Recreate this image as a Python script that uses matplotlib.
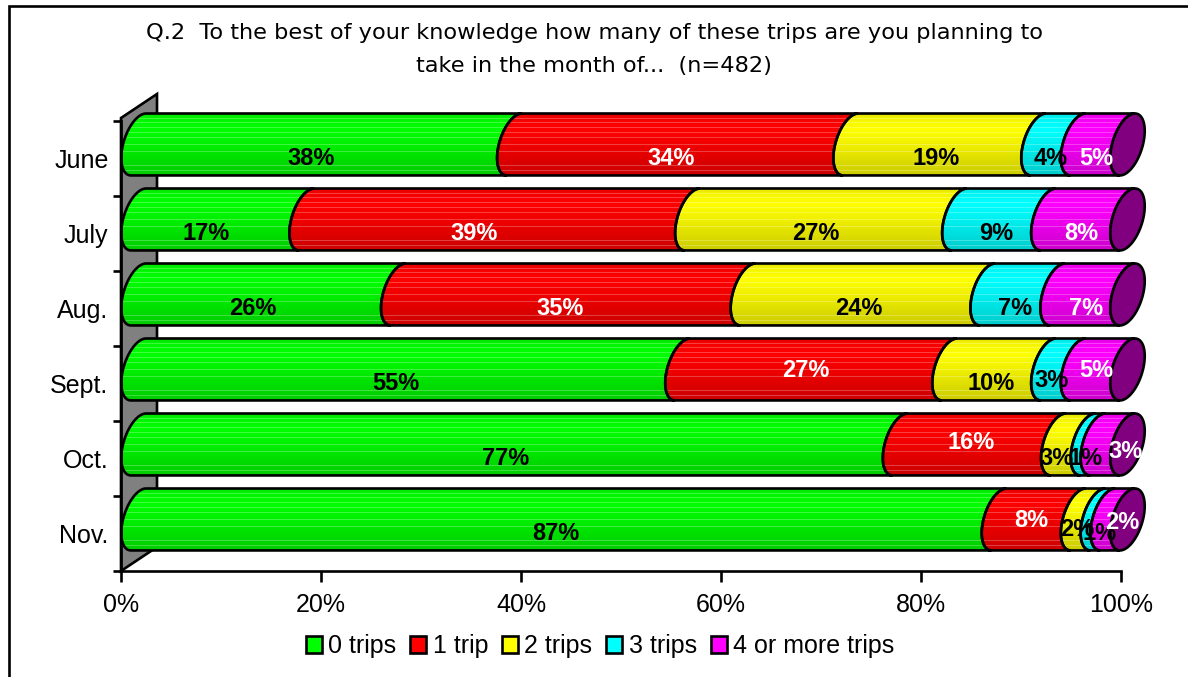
import numpy as np
import matplotlib.pyplot as plt
from matplotlib.patches import Polygon, Patch, Rectangle

# Survey answers per month (percent of respondents)
months = ['June', 'July', 'Aug.', 'Sept.', 'Oct.', 'Nov.']
series = ['0 trips', '1 trip', '2 trips', '3 trips', '4 or more trips']
trips_0 = [38, 17, 26, 55, 77, 87]
trips_1 = [34, 39, 35, 27, 16, 8]
trips_2 = [19, 27, 24, 10, 3, 2]
trips_3 = [4, 9, 7, 3, 1, 1]
trips_4 = [5, 8, 7, 5, 3, 2]

colors = ['#00ff00', '#ff0000', '#ffff00', '#00ffff', '#ff00ff']
label_colors = ['black', 'white', 'black', 'black', 'white']
cap_color = '#800080'

# small hand nudges for crowded labels (row, col): (dx, dy)
nudges = {(1, 1): (-1.2, 0),
          (3, 1): (0, -0.17), (3, 3): (-0.4, -0.04), (3, 4): (0, -0.17),
          (4, 1): (0, -0.21), (4, 2): (-0.9, 0), (4, 4): (2.0, -0.10),
          (5, 1): (0, -0.17), (5, 2): (-0.4, -0.05), (5, 3): (0.4, 0),
          (5, 4): (1.1, -0.15)}

values = np.array([trips_0, trips_1, trips_2, trips_3, trips_4], dtype=float).T
# 100% stacked: every month is scaled to its own total
shares = values / values.sum(axis=1, keepdims=True) * 100
cum = np.hstack([np.zeros((len(months), 1)), np.cumsum(shares, axis=1)])

# cylinder geometry (x in percent units, y in category units)
RX, K, RY = 1.55, 0.75, 0.413
YOFF = -0.187
LW = 1.9


def xc(v):
    # cylinder axis sits a little behind the front plane
    return 1.75 + 0.989 * v


def arc(cx, cy, t0, t1, n=40):
    t = np.radians(np.linspace(t0, t1, n))
    return np.column_stack([cx + RX * np.cos(t) + K * np.sin(t), cy - RY * np.sin(t)])


def shade(rgb, n=62):
    tt = np.linspace(0, 1, n)
    f = np.interp(tt, [0, 0.08, 0.25, 0.55, 1.0], [0.88, 0.96, 1.0, 0.93, 0.80])
    col = np.outer(f, np.array(rgb))
    # faint light streaks
    for r in [5, 9, 14, 19, 24, 31, 38, 52, 57]:
        col[r] = col[r] + (1 - col[r]) * 0.25
    return col[:, None, :]


fig = plt.figure(figsize=(11.88, 6.77), dpi=100)
ax = fig.add_axes([121 / 1188, (677 - 571) / 677, 1000 / 1188, 450 / 677])
ax.set_xlim(0, 100)
ax.set_ylim(5.5, -0.5)

# grey side wall
wall = Polygon([(0, 5.5), (0, -0.54), (3.6, -0.86), (3.6, 5.18)], closed=True,
               fc='#808080', ec='black', lw=LW, zorder=1, clip_on=False)
ax.add_patch(wall)

for i in range(len(months)):
    cy = i + YOFF
    for j in range(len(series)):
        xa, xb = xc(cum[i, j]), xc(cum[i, j + 1])
        pts = np.vstack([arc(xa, cy, 90, 270), arc(xb, cy, 270, 90)])
        poly = Polygon(pts, closed=True, fc='none', ec='black', lw=LW,
                       zorder=3 + j * 0.1, clip_on=False)
        ax.add_patch(poly)
        rgb = plt.matplotlib.colors.to_rgb(colors[j])
        im = ax.imshow(shade(rgb), extent=(xa - 2, xb + 2, cy + RY, cy - RY),
                       origin='upper', aspect='auto', zorder=2 + j * 0.1,
                       interpolation='bilinear')
        im.set_clip_box(fig.bbox)
        im.set_clip_path(poly)
        dx, dy = nudges.get((i, j), (0, 0))
        ax.text((cum[i, j] + cum[i, j + 1]) / 2 + dx, i + dy, f'{values[i, j]:.0f}%',
                ha='center', va='center', fontsize=17, fontweight='bold',
                family='Liberation Sans', color=label_colors[j], zorder=6)
    cap = Polygon(arc(xc(100), cy, 0, 360, 80), closed=True, fc=cap_color,
                  ec='black', lw=LW, zorder=4, clip_on=False)
    ax.add_patch(cap)

ax.set_xlim(0, 100)
ax.set_ylim(5.5, -0.5)

ax.set_xticks(np.arange(0, 101, 20))
ax.set_xticklabels([f'{v}%' for v in range(0, 101, 20)])
ax.set_yticks(range(len(months)))
ax.set_yticklabels(months)
ax.set_yticks(np.arange(-0.5, 6, 1), minor=True)
ax.tick_params(axis='y', which='major', length=0, pad=9)
ax.tick_params(axis='y', which='minor', length=6, width=LW, direction='out')
ax.tick_params(axis='x', length=8, width=LW, direction='out', pad=8)
for lab in ax.get_xticklabels() + ax.get_yticklabels():
    lab.set_fontsize(18)
    lab.set_family('Liberation Sans')

for s in ['top', 'right']:
    ax.spines[s].set_visible(False)
ax.spines['bottom'].set_linewidth(LW)
ax.spines['left'].set_linewidth(LW)
ax.set_facecolor('none')

fig.text(0.5, 1 - 33 / 677,
         'Q.2  To the best of your knowledge how many of these trips are you planning to',
         ha='center', va='center', fontsize=16.2, family='DejaVu Sans')
fig.text(0.5, 1 - 66 / 677, 'take in the month of...  (n=482)',
         ha='center', va='center', fontsize=16.2, family='DejaVu Sans')

handles = [Patch(fc=c, ec='black', lw=LW) for c in colors]
fig.legend(handles, series, loc='center', bbox_to_anchor=(600 / 1188, 31 / 677),
           ncol=5, frameon=False, handlelength=0.65, handleheight=0.65,
           handletextpad=0.25, columnspacing=0.55,
           prop={'family': 'Liberation Sans', 'size': 18})

fig.patches.append(Rectangle((9 / 1188, -0.05), 1.1, 1 - 6 / 677 + 0.05,
                             transform=fig.transFigure, fill=False,
                             ec='black', lw=LW))

fig.savefig('out.png', dpi=100)
